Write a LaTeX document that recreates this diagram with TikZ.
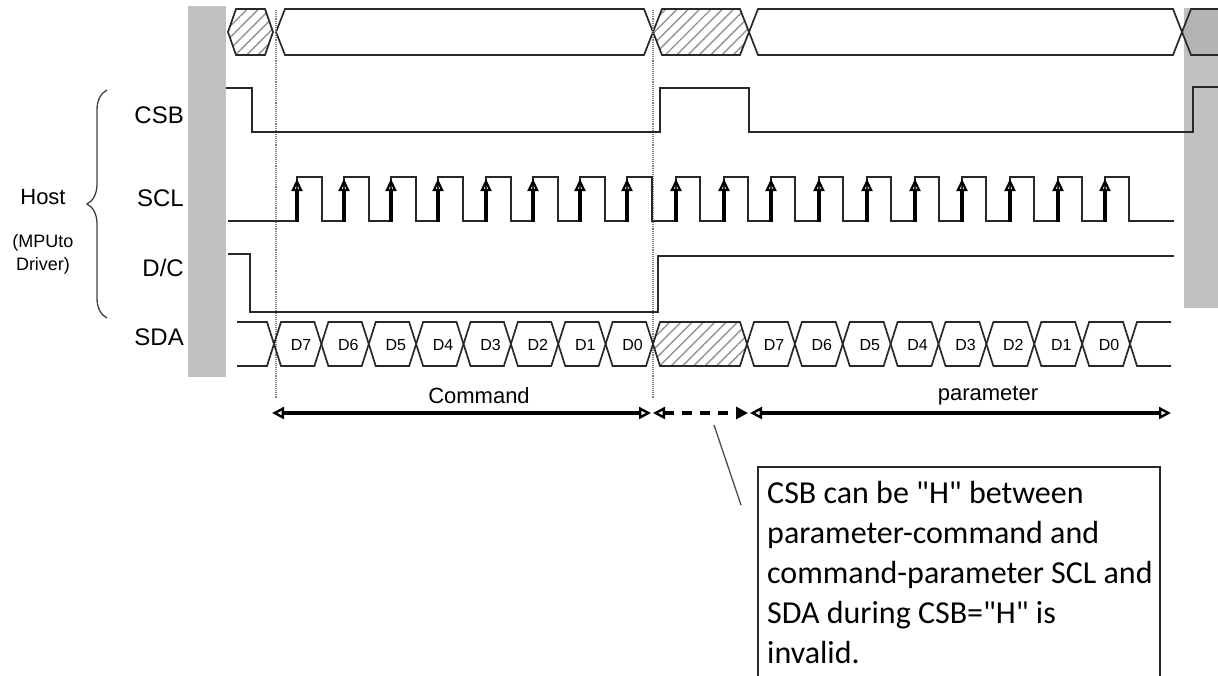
\documentclass[tikz,border=0pt]{standalone}
\usepackage{fontspec}
\setmainfont{Liberation Sans}
\newfontfamily\notefont{Carlito}
\usetikzlibrary{arrows.meta,patterns.meta,decorations.pathreplacing}
\definecolor{bargray}{RGB}{192,192,192}
\definecolor{barshade}{RGB}{180,180,180}
\definecolor{wirecol}{RGB}{40,40,40}
\tikzset{
    wire/.style={draw=wirecol,line width=1.7pt},
    dcwire/.style={draw=wirecol,line width=2.6pt},
    hatched/.style={wire,pattern={Lines[angle=45,distance=8pt,line width=1.4pt]},pattern color=gray!85},
    guide/.style={draw=gray,line width=1.1pt,densely dotted},
    edgearrow/.style={draw=black,line width=3.4pt,-{Triangle[open,length=12pt,width=11pt,line width=2.2pt]}},
    spantip/.tip={Triangle[open,length=12pt,width=12pt,line width=2.4pt]},
    spanarrow/.style={draw=black,line width=3.8pt,spantip-spantip},
    siglabel/.style={anchor=east,inner sep=0pt,font=\fontsize{24}{26}\selectfont},
    bitlabel/.style={inner sep=0pt,font=\fontsize{16}{17}\selectfont},
    spanlabel/.style={inner sep=0pt,font=\fontsize{22}{24}\selectfont},
}
% hexagon cell: options, left x, right x, top y, bottom y, slant
\newcommand{\hexcell}[6]{%
  \path[#1] (#2,{(#4+#5)/2}) -- ({#2+#6},#4) -- ({#3-#6},#4) -- (#3,{(#4+#5)/2})
    -- ({#3-#6},#5) -- ({#2+#6},#5) -- cycle;}

\begin{document}
\begin{tikzpicture}[x=1pt,y=-1pt]
  \useasboundingbox (0,0) rectangle (1218,675);
  \clip (0,0) rectangle (1218,675);

  % gray bars
  \fill[bargray] (188,6) rectangle (226,377);
  \fill[bargray] (1184,8) rectangle (1218,308);

  % top bus
  \hexcell{hatched}{228}{273}{9}{55}{8}
  \hexcell{wire,fill=white}{276}{653}{9}{55}{9}
  \hexcell{hatched}{653}{749}{9}{55}{9}
  \hexcell{wire,fill=white}{749}{1182}{9}{55}{9}
  \path[wire,fill=barshade] (1182,32) -- (1191,9) -- (1228,9) -- (1228,55) -- (1191,55) -- cycle;

  % guide lines
  \draw[guide] (276,10) -- (276,398);
  \draw[guide] (653,10) -- (653,398);

  % CSB
  \draw[wire] (226,88) -- (252,88) -- (252,132) -- (660,132) -- (660,88) -- (749,88)
    -- (749,132) -- (1193,132) -- (1193,87) -- (1218,87);

  % SCL
  \draw[wire] (228,221)
    foreach \r in {297,344,391,438,486,533,580,627} { -- (\r,221) -- (\r,177) -- (\r+25,177) -- (\r+25,221) }
    foreach \r in {676,724,771,819,867,915,962,1010,1058,1105} { -- (\r,221) -- (\r,177) -- (\r+24,177) -- (\r+24,221) }
    -- (1174,221);
  \foreach \r in {297,344,391,438,486,533,580,627,676,724,771,819,867,915,962,1010,1058,1105}
    \draw[edgearrow] (\r,222) -- (\r,179);

  % D/C
  \draw[dcwire] (228,254) -- (250,254) -- (250,312) -- (658,312) -- (658,256) -- (1174,256);

  % SDA
  \draw[wire] (237,322) -- (267,322) -- (274,344) -- (267,366) -- (237,366);
  \foreach \lbl [count=\i from 0] in {D7,D6,D5,D4,D3,D2,D1,D0} {
    \pgfmathsetmacro{\xa}{274+47.375*\i}
    \pgfmathsetmacro{\xb}{\xa+47.375}
    \hexcell{wire}{\xa}{\xb}{322}{366}{7}
    \node[bitlabel] (cmdbit\i) at (\xa+27,345) {\lbl};
  }
  \hexcell{hatched}{653}{747}{322}{366}{7}
  \foreach \lbl [count=\i from 0] in {D7,D6,D5,D4,D3,D2,D1,D0} {
    \pgfmathsetmacro{\xa}{747+47.875*\i}
    \pgfmathsetmacro{\xb}{\xa+47.875}
    \hexcell{wire}{\xa}{\xb}{322}{366}{7}
    \node[bitlabel] (parbit\i) at (\xa+27,345) {\lbl};
  }
  \draw[wire] (1171,322) -- (1137,322) -- (1130,344) -- (1137,366) -- (1171,366);

  % signal names
  \node[siglabel] (csb) at (184,115) {CSB};
  \node[siglabel] (scl) at (184,198) {SCL};
  \node[siglabel] (dc) at (184,268) {D/C};
  \node[siglabel] (sda) at (184,337) {SDA};
  \node[inner sep=0pt,font=\fontsize{22}{24}\selectfont] (host) at (43,197) {Host};
  \node[inner sep=0pt,align=center,font=\fontsize{18}{23}\selectfont] (mpu) at (43,254) {(MPUto\\Driver)};
  \draw[draw=gray!50!black,line width=1.3pt,decorate,decoration={brace,amplitude=20pt,aspect=0.5}]
    (107,318) -- (107,90);

  % command / parameter spans
  \coordinate (cmdL) at (272,413);
  \coordinate (cmdR) at (651,413);
  \coordinate (gapL) at (653,413);
  \coordinate (gapR) at (748,413);
  \coordinate (parL) at (750,413);
  \coordinate (parR) at (1171,413);
  \draw[spanarrow] (cmdL) -- (cmdR);
  \draw[spanarrow,dash pattern=on 10pt off 8pt,spantip-{Triangle[length=12pt,width=12pt]}] (gapL) -- (gapR);
  \draw[spanarrow] (parL) -- (parR);
  \node[spanlabel] (cmd) at (479,396) {Command};
  \node[spanlabel] (par) at (988,396) {parameter};

  % note
  \coordinate (leadA) at (714,425);
  \coordinate (leadB) at (741,505);
  \draw[draw=gray!60!black,line width=1.3pt] (leadA) -- (leadB);
  \draw[wire,line width=1.5pt] (758,690) -- (758,467) -- (1160,467) -- (1160,690);
  \node[anchor=north west,align=left,inner sep=0pt,font=\notefont\fontsize{32}{40}\selectfont] (note) at (767,481)
    {CSB can be "H" between\\parameter-command and\\command-parameter SCL and\\SDA during CSB="H" is\\invalid.};
\end{tikzpicture}
\end{document}
